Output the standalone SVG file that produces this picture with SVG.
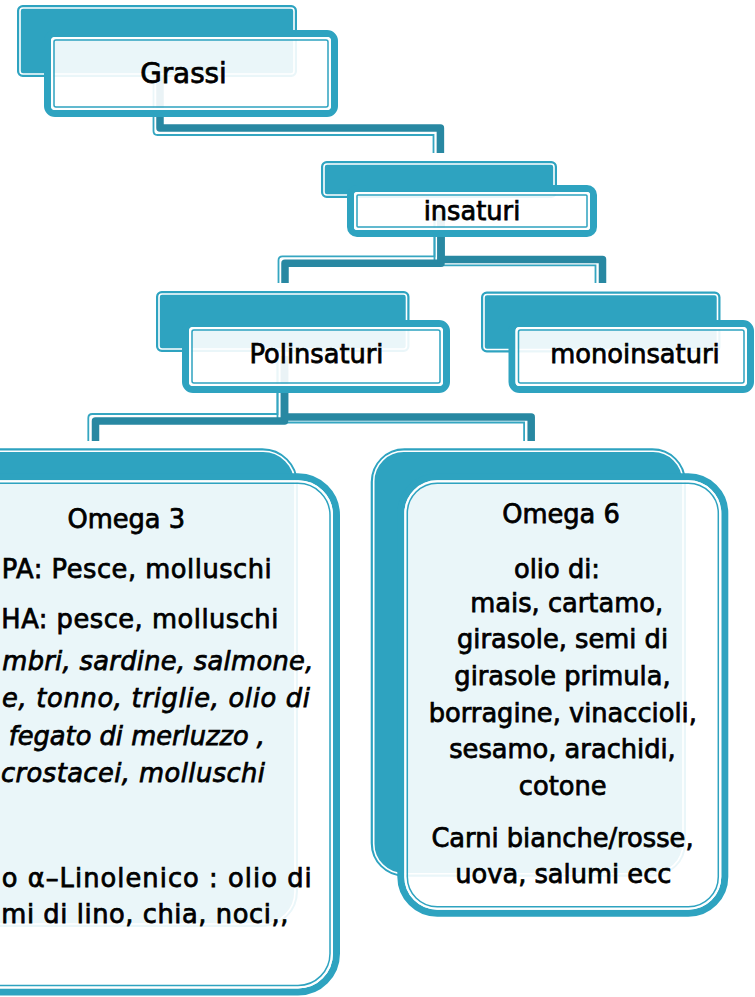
<svg xmlns="http://www.w3.org/2000/svg" width="755" height="997" viewBox="0 0 755 997">
<style>
.bk{fill:#2EA3C0;stroke:#2EA3C0;stroke-width:1.5}
.bkl{fill:none;stroke:#ffffff;stroke-width:1.6}
.fr{fill:#ffffff;fill-opacity:0.9;stroke:#2EA3C0;stroke-width:7}
.frw{fill:none;stroke:#ffffff;stroke-width:2}
.frt{fill:none;stroke:#2EA3C0;stroke-width:1.5}
.ck{fill:none;stroke:#2888A2;stroke-width:7.5;stroke-linejoin:round}
.cn{fill:none;stroke:#35A6C1;stroke-width:1.8}
.t{font-family:"DejaVu Sans","Verdana",sans-serif;font-size:25.7px;fill:#000;stroke:#000;stroke-width:0.75;text-anchor:middle}
.e{text-anchor:end}
.i{font-style:italic}
</style>
<rect x="0" y="0" width="755" height="997" fill="#ffffff"/>
<g id="connectors">
  <path class="cn" d="M153.5,74 V131 Q153.5,135 157.5,135 H433.5 V153"/>
  <path class="ck" d="M160,74 V128 H440.4 V153"/>
  <path class="cn" d="M434.5,211 V256.3 H282.5 Q278.5,256.3 278.5,260.3 V283"/>
  <path class="cn" d="M434.5,211 V261.3 Q434.5,265.3 438.5,265.3 H595.5 V283"/>
  <path class="ck" d="M441,211 V263.3 H285 V283"/>
  <path class="ck" d="M441,211 V259.5 H602.5 V283"/>
  <path class="cn" d="M277.5,356 V414 H92.3 Q88.3,414 88.3,418 V441"/>
  <path class="cn" d="M277.5,356 V418.5 Q277.5,422.5 281.5,422.5 H524.1 V441"/>
  <path class="ck" d="M284.5,356 V421 H95.5 V441"/>
  <path class="ck" d="M284.5,356 V417 H531.2 V441"/>
</g>
<g id="node-grassi">
  <rect class="bk" x="17.75" y="5.75" width="278.5" height="70.5" rx="5"/>
  <rect class="bkl" x="20" y="8" width="274" height="66" rx="3"/>
  <rect class="fr" x="47.5" y="33.5" width="287" height="80" rx="7.5"/>
  <rect class="frw" x="52" y="38" width="278" height="71" rx="3"/>
  <rect class="frt" x="54" y="40" width="274" height="67" rx="2"/>
  <text class="t" x="183.5" y="83" style="font-size:27.8px">Grassi</text>
</g>
<g id="node-insaturi">
  <rect class="bk" x="321.75" y="161.75" width="234.5" height="35.5" rx="5"/>
  <rect class="bkl" x="324" y="164" width="230" height="31" rx="3"/>
  <rect class="fr" x="350.5" y="188.5" width="243" height="45" rx="6.5"/>
  <rect class="frw" x="355" y="193" width="234" height="36" rx="2"/>
  <rect class="frt" x="357" y="195" width="230" height="32" rx="1"/>
  <text class="t" x="472" y="220">insaturi</text>
</g>
<g id="node-polinsaturi">
  <rect class="bk" x="156.75" y="291.75" width="252" height="59.5" rx="5"/>
  <rect class="bkl" x="159" y="294" width="247.5" height="55" rx="3"/>
  <rect class="fr" x="185.5" y="323.5" width="261" height="66" rx="7.5"/>
  <rect class="frw" x="190" y="328" width="252" height="57" rx="3"/>
  <rect class="frt" x="192" y="330" width="248" height="53" rx="2"/>
  <text class="t" x="316.5" y="363.3">Polinsaturi</text>
</g>
<g id="node-monoinsaturi">
  <rect class="bk" x="481.75" y="292.25" width="238" height="59.5" rx="5"/>
  <rect class="bkl" x="484" y="294.5" width="233.5" height="55" rx="3"/>
  <rect class="fr" x="512" y="323.5" width="238.5" height="66" rx="7.5"/>
  <rect class="frw" x="516.5" y="328" width="229.5" height="57" rx="3"/>
  <rect class="frt" x="518.5" y="330" width="225.5" height="53" rx="2"/>
  <text class="t" x="635" y="362.7">monoinsaturi</text>
</g>
<g id="node-omega3">
  <rect class="bk" x="-39.25" y="449" width="336.5" height="477.3" rx="35"/>
  <rect class="bkl" x="-37" y="451.3" width="332" height="472.7" rx="32"/>
  <rect class="fr" x="-36.5" y="476.8" width="373" height="515.2" rx="38.5"/>
  <rect class="frw" x="-32" y="481.3" width="364" height="506.2" rx="34"/>
  <rect class="frt" x="-30" y="483.3" width="360" height="502.2" rx="32"/>
  <text class="t" x="126.3" y="528.3">Omega 3</text>
  <text class="t e" x="271.7" y="578.3" textLength="270" lengthAdjust="spacing">PA: Pesce, molluschi</text>
  <text class="t e" x="278.3" y="628.3" textLength="277" lengthAdjust="spacing">HA: pesce, molluschi</text>
  <text class="t e i" x="313.3" y="670" textLength="311" lengthAdjust="spacing">mbri, sardine, salmone,</text>
  <text class="t e i" x="310" y="706.7" textLength="308" lengthAdjust="spacing">e, tonno, triglie, olio di</text>
  <text class="t e i" x="265" y="745">fegato di merluzzo ,</text>
  <text class="t e i" x="265" y="781.7" textLength="264" lengthAdjust="spacing">crostacei, molluschi</text>
  <text class="t e" x="311.7" y="886.7" textLength="310" lengthAdjust="spacing">o α–Linolenico : olio di</text>
  <text class="t e" x="288.3" y="923.3" textLength="287" lengthAdjust="spacing">mi di lino, chia, noci,,</text>
</g>
<g id="node-omega6">
  <rect class="bk" x="371.45" y="449.05" width="313.8" height="426.9" rx="33"/>
  <rect class="bkl" x="373.7" y="451.3" width="309.3" height="422.4" rx="30"/>
  <rect class="fr" x="400.8" y="476.8" width="324" height="436.4" rx="36.5"/>
  <rect class="frw" x="405.3" y="481.3" width="315" height="427.4" rx="32"/>
  <rect class="frt" x="407.3" y="483.3" width="311" height="423.4" rx="30"/>
  <text class="t" x="561" y="523.3">Omega 6</text>
  <text class="t" x="557" y="577.7">olio di:</text>
  <text class="t" x="566.7" y="611.7">mais, cartamo,</text>
  <text class="t" x="562.5" y="648.3">girasole, semi di</text>
  <text class="t" x="562.5" y="685">girasole primula,</text>
  <text class="t" x="562.8" y="721.7">borragine, vinaccioli,</text>
  <text class="t" x="562.5" y="758.3">sesamo, arachidi,</text>
  <text class="t" x="562.7" y="795">cotone</text>
  <text class="t" x="562.5" y="846.7">Carni bianche/rosse,</text>
  <text class="t" x="563.3" y="883.3">uova, salumi ecc</text>
</g>
</svg>
